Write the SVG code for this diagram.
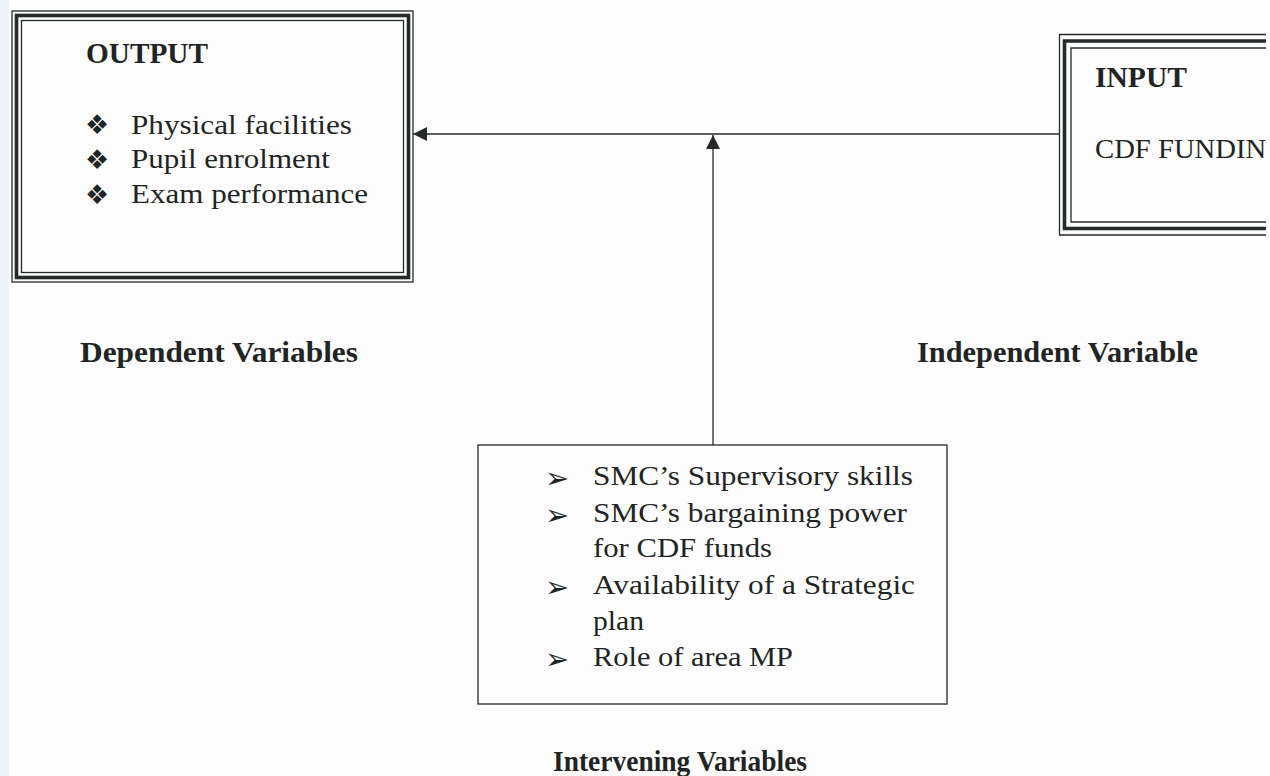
<svg xmlns="http://www.w3.org/2000/svg" width="1270" height="776" viewBox="0 0 1270 776">
  <style>
    .ink { stroke: #262a2a; fill: none; }
    .thin { stroke-width: 1.3; }
    .thick { stroke-width: 3.6; }
    .head { font-family: "Liberation Serif", "Times New Roman", serif; font-weight: bold; font-size: 29px; fill: #1f2424; }
    .body { font-family: "Liberation Serif", "Times New Roman", serif; font-size: 28px; fill: #1f2424; }
    .dia { font-family: "DejaVu Sans", sans-serif; font-size: 27px; fill: #1f2424; }
    .arw { font-family: "DejaVu Sans", sans-serif; font-size: 29px; fill: #1f2424; }
  </style>
  <defs>
    <marker id="head" viewBox="0 0 14 14" refX="14" refY="7" markerWidth="14" markerHeight="14" markerUnits="userSpaceOnUse" orient="auto">
      <path d="M0,0 L14,7 L0,14 Z" fill="#262a2a"/>
    </marker>
    <clipPath id="page">
      <rect x="0" y="0" width="1267" height="776"/>
    </clipPath>
  </defs>

  <!-- paper -->
  <rect x="0" y="0" width="1270" height="776" fill="#fdfdfd"/>
  <rect x="0" y="0" width="9" height="776" fill="#eef3f7"/>

  <!-- OUTPUT box: triple border thin / thick / thin -->
  <g id="output">
    <rect class="ink thin" x="12" y="11" width="401" height="271"/>
    <rect class="ink thick" x="16.5" y="15.5" width="392" height="262"/>
    <rect class="ink thin" x="21.5" y="20.5" width="382" height="252"/>
    <text class="head" x="86" y="63" textLength="122" lengthAdjust="spacingAndGlyphs">OUTPUT</text>
    <text class="dia" x="97" y="134" text-anchor="middle">❖</text>
    <text class="dia" x="97" y="169" text-anchor="middle">❖</text>
    <text class="dia" x="97" y="204" text-anchor="middle">❖</text>
    <text class="body" x="131" y="134" textLength="221" lengthAdjust="spacingAndGlyphs">Physical facilities</text>
    <text class="body" x="131" y="168" textLength="199" lengthAdjust="spacingAndGlyphs">Pupil enrolment</text>
    <text class="body" x="131" y="203" textLength="237" lengthAdjust="spacingAndGlyphs">Exam performance</text>
  </g>

  <!-- INPUT box: runs off the right edge of the page -->
  <g id="input" clip-path="url(#page)">
    <path class="ink thin" d="M1266,34.5 H1059.5 V235 H1266"/>
    <path class="ink thick" d="M1266,41 H1064.5 V228.5 H1266"/>
    <path class="ink thin" d="M1266,48 H1071 V222 H1266"/>
    <text class="head" x="1095" y="87" textLength="92" lengthAdjust="spacingAndGlyphs">INPUT</text>
    <text class="body" x="1095" y="158" textLength="192" lengthAdjust="spacingAndGlyphs">CDF FUNDING</text>
  </g>

  <!-- intervening factors box -->
  <g id="intervening">
    <rect class="ink thin" x="478" y="445" width="469" height="259"/>
    <text class="arw" x="545" y="488">➢</text>
    <text class="arw" x="545" y="525">➢</text>
    <text class="arw" x="545" y="597">➢</text>
    <text class="arw" x="545" y="669">➢</text>
    <text class="body" x="593" y="485" textLength="320" lengthAdjust="spacingAndGlyphs">SMC’s Supervisory skills</text>
    <text class="body" x="593" y="522" textLength="314" lengthAdjust="spacingAndGlyphs">SMC’s bargaining power</text>
    <text class="body" x="593" y="557" textLength="179" lengthAdjust="spacingAndGlyphs">for CDF funds</text>
    <text class="body" x="593" y="594" textLength="322" lengthAdjust="spacingAndGlyphs">Availability of a Strategic</text>
    <text class="body" x="593" y="630" textLength="51" lengthAdjust="spacingAndGlyphs">plan</text>
    <text class="body" x="593" y="666" textLength="200" lengthAdjust="spacingAndGlyphs">Role of area MP</text>
  </g>

  <!-- variable labels -->
  <g id="labels">
    <text class="head" x="80" y="362" textLength="278" lengthAdjust="spacingAndGlyphs">Dependent Variables</text>
    <text class="head" x="917" y="362" textLength="281" lengthAdjust="spacingAndGlyphs">Independent Variable</text>
    <text class="head" x="553" y="771" textLength="254" lengthAdjust="spacingAndGlyphs">Intervening Variables</text>
  </g>

  <!-- connectors -->
  <g id="connectors">
    <line class="ink thin" x1="1059.5" y1="134" x2="413" y2="134" marker-end="url(#head)"/>
    <line class="ink thin" x1="713" y1="445" x2="713" y2="135" marker-end="url(#head)"/>
  </g>
</svg>
